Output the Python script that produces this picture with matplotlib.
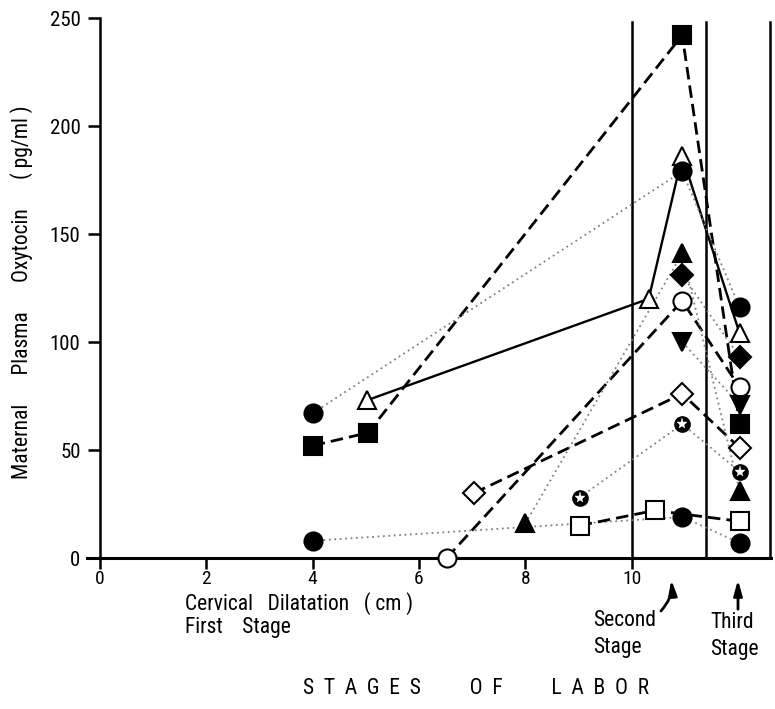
import matplotlib
matplotlib.use("Agg")
import matplotlib.pyplot as plt
from matplotlib import font_manager

names = {f.name for f in font_manager.fontManager.ttflist}
CANDIDATES = ['Liberation Sans Narrow', 'DejaVu Sans Condensed', 'Roboto Condensed',
              'Open Sans Condensed', 'Noto Sans Condensed', 'Liberation Sans']
FONT = [n for n in CANDIDATES if n in names][:1] + ['DejaVu Sans']
plt.rcParams['font.family'] = FONT

# ---- data (cervical dilatation in cm / stage position, oxytocin pg/ml) ----
x_ticks = [0, 2, 4, 6, 8, 10]
y_ticks = [0, 50, 100, 150, 200, 250]

sq_filled_x = [4.0, 5.04, 10.95, 12.03]
sq_filled_y = [52, 58, 242, 62]

tri_open_x = [5.02, 10.32, 10.95, 12.03]
tri_open_y = [73, 120, 186, 104]

circ_hi_x = [4.0, 10.95, 12.03]
circ_hi_y = [67, 179, 116]

circ_lo_x = [4.0, 10.95, 12.03]
circ_lo_y = [8, 19, 7]

circ_open_x = [6.52, 10.95, 12.03]
circ_open_y = [0, 119, 79]

diam_open_x = [7.03, 10.95, 12.03]
diam_open_y = [30, 76, 51]

tri_filled_x = [8.0, 10.95, 12.03]
tri_filled_y = [16, 141, 31]

star_x = [9.02, 10.95, 12.03]
star_y = [28, 62, 40]

sq_open_x = [9.02, 10.43, 12.03]
sq_open_y = [15, 22, 17]

diam_filled_x = [10.95, 12.03]
diam_filled_y = [131, 93]

tri_down_x = [10.95, 12.03]
tri_down_y = [100, 71]

stage_lines = [10.0, 11.39, 12.6]

# ---- figure ----
W, H = 775, 709
fig = plt.figure(figsize=(W / 100, H / 100), dpi=100)
ax = fig.add_axes([86.7 / W, 151 / H, (771 - 86.7) / W, (558 - 18) / H])
ax.set_xlim(-0.25, 12.62)
ax.set_ylim(0, 250)

for s in ['top', 'right']:
    ax.spines[s].set_visible(False)
ax.spines['left'].set_position(('data', 0))
ax.spines['left'].set_linewidth(1.8)
ax.spines['bottom'].set_linewidth(2.2)
ax.set_xticks(x_ticks)
ax.set_yticks(y_ticks)
ax.tick_params(axis='x', direction='out', length=8, width=1.8, pad=0.5, labelsize=14)
ax.tick_params(axis='y', direction='out', length=9, width=1.8, pad=5, labelsize=15)
ax.spines['left'].set_bounds(0, 250)

# stage separator lines
for xv in stage_lines:
    ax.plot([xv, xv], [0, 248], color='black', lw=1.8, clip_on=False, zorder=2)

DASH = (0, (4.5, 2.2))
DOT = (0, (1, 2))
GR = '0.5'

def line(x, y, style):
    if style == 'dash':
        ax.plot(x, y, color='black', lw=2.0, linestyle=DASH, clip_on=False, zorder=3)
    elif style == 'solid':
        ax.plot(x, y, color='black', lw=1.7, linestyle='-', clip_on=False, zorder=3)
    else:
        ax.plot(x, y, color=GR, lw=1.3, linestyle=DOT, clip_on=False, zorder=3)

line(sq_filled_x, sq_filled_y, 'dash')
line(tri_open_x, tri_open_y, 'solid')
line(circ_hi_x, circ_hi_y, 'dot')
line(circ_lo_x, circ_lo_y, 'dot')
line(circ_open_x, circ_open_y, 'dash')
line(diam_open_x, diam_open_y, 'dash')
line(tri_filled_x, tri_filled_y, 'dot')
line(star_x, star_y, 'dot')
line(sq_open_x, sq_open_y, 'dash')
line(diam_filled_x, diam_filled_y, 'dot')
line(tri_down_x, tri_down_y, 'dot')

def marks(x, y, m, ms, filled):
    ax.plot(x, y, linestyle='none', marker=m, ms=ms,
            mfc='black' if filled else 'white', mec='black', mew=1.5,
            clip_on=False, zorder=5)

marks(sq_filled_x, sq_filled_y, 's', 13, True)
marks(tri_open_x, tri_open_y, '^', 13, False)
marks(circ_hi_x, circ_hi_y, 'o', 13, True)
marks(circ_lo_x, circ_lo_y, 'o', 13, True)
marks(circ_open_x, circ_open_y, 'o', 13, False)
marks(diam_open_x, diam_open_y, 'D', 11, False)
marks(tri_filled_x, tri_filled_y, '^', 13, True)
marks(sq_open_x, sq_open_y, 's', 13, False)
marks(diam_filled_x, diam_filled_y, 'D', 11, True)
marks(tri_down_x, tri_down_y, 'v', 13, True)
# star-in-circle symbol
ax.plot(star_x, star_y, linestyle='none', marker='o', ms=11, mfc='black', mec='black',
        clip_on=False, zorder=5)
ax.plot(star_x, star_y, linestyle='none', marker='*', ms=8, mfc='white', mec='white',
        mew=0.3, clip_on=False, zorder=6)

# ---- texts ----
def ftext(px, py, s, **kw):
    fig.text(px / W, 1 - py / H, s, fontsize=kw.pop('fontsize', 15.5), **kw)

ftext(22, 292, 'Maternal      Plasma      Oxytocin      ( pg/ml )', rotation=90,
      ha='center', va='center', fontsize=15.5)
ftext(185, 604, 'Cervical   Dilatation   ( cm )', ha='left', va='center')
ftext(185, 628, 'First    Stage', ha='left', va='center')
ftext(593, 620, 'Second', ha='left', va='center')
ftext(593, 647, 'Stage', ha='left', va='center')
ftext(710, 623, 'Third', ha='left', va='center')
ftext(710, 650, 'Stage', ha='left', va='center')
ftext(476, 689, 'S  T  A  G  E  S          O  F          L  A  B  O  R', ha='center',
      va='center', fontsize=15.5)

# arrows (figure pixel coords)
def fp(px, py):
    return (px / W, 1 - py / H)

ax.annotate('', xy=fp(671, 577), xycoords='figure fraction',
            xytext=fp(659, 613), textcoords='figure fraction',
            arrowprops=dict(arrowstyle='-|>,head_length=0.9,head_width=0.25',
                            color='black', lw=2.0,
                            connectionstyle='arc3,rad=0.25'),
            annotation_clip=False)
ax.annotate('', xy=fp(738, 577), xycoords='figure fraction',
            xytext=fp(738, 612), textcoords='figure fraction',
            arrowprops=dict(arrowstyle='-|>,head_length=0.9,head_width=0.25',
                            color='black', lw=2.0),
            annotation_clip=False)

fig.savefig('out.png', dpi=100)
